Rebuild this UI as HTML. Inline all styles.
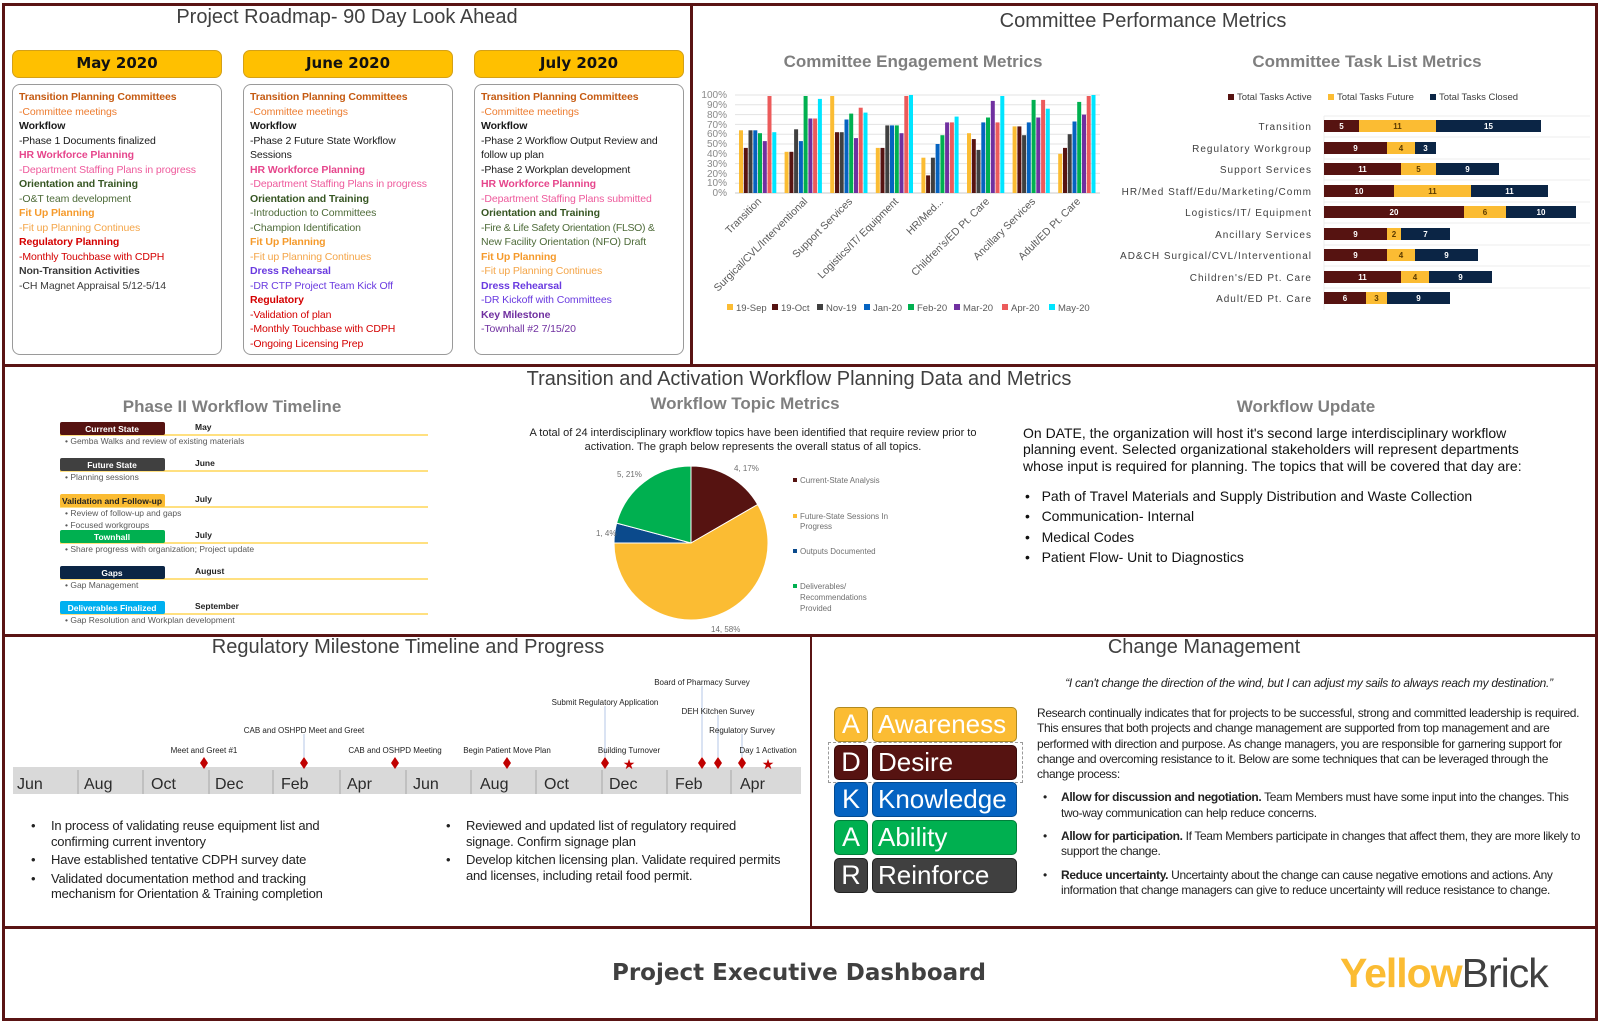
<!DOCTYPE html>
<html><head><meta charset="utf-8">
<style>
*{margin:0;padding:0;box-sizing:border-box}
body{width:1600px;height:1022px;background:#fff;position:relative;overflow:hidden;font-family:"Liberation Sans",sans-serif;color:#222}
.a{position:absolute}
.ln{position:absolute;background:#5a1414}
.title{position:absolute;font-size:20px;color:#404040;white-space:nowrap;transform:translateX(-50%)}
.sub{position:absolute;font-size:17px;font-weight:bold;color:#7f7f7f;white-space:nowrap;transform:translateX(-50%)}
.mh{position:absolute;top:50px;height:28px;background:#ffc000;border:1.5px solid #d4a017;border-radius:7px;font-family:"DejaVu Sans",sans-serif;font-weight:bold;font-size:15px;text-align:center;line-height:25px;color:#111}
.mb{position:absolute;top:84px;height:271px;border:1.5px solid #9a9a9a;border-radius:8px;padding:5px 0 0 6px;font-size:10.5px;line-height:14.5px;white-space:nowrap;letter-spacing:-0.1px}
.b{font-weight:bold}
.o1{color:#c55a11}.o2{color:#ed7d31}.k{color:#1a1a1a}.p1{color:#e6468c}.p2{color:#ee5a9c}.g1{color:#375623}.g2{color:#4e6b39}.f1{color:#f59a2b}.f2{color:#f4a548}.r{color:#d40000}.gr{color:#3a3a3a}.v{color:#6a3be0}.km{color:#7030a0}
.nar{font-family:"Liberation Sans Narrow","Liberation Sans",sans-serif}
</style></head><body>

<div class="ln" style="left:2px;top:3px;width:1596px;height:3px"></div>
<div class="ln" style="left:2px;top:1018px;width:1596px;height:3px"></div>
<div class="ln" style="left:2px;top:3px;width:3px;height:1018px"></div>
<div class="ln" style="left:1595px;top:3px;width:3px;height:1018px"></div>
<div class="ln" style="left:2px;top:364px;width:1596px;height:3px"></div>
<div class="ln" style="left:2px;top:634px;width:1596px;height:3px"></div>
<div class="ln" style="left:2px;top:926px;width:1596px;height:3px"></div>
<div class="ln" style="left:690px;top:3px;width:3px;height:362px"></div>
<div class="ln" style="left:810px;top:634px;width:2px;height:293px"></div>

<div class="title" style="left:347px;top:6px">Project Roadmap- 90 Day Look Ahead</div>
<div class="mh" style="left:12px;width:210px">May 2020</div>
<div class="mh" style="left:243px;width:210px">June 2020</div>
<div class="mh" style="left:474px;width:210px">July 2020</div>
<div class="mb" style="left:12px;width:210px">
<span class="b o1">Transition Planning Committees</span><br><span class="o2">-Committee meetings</span><br><span class="b k">Workflow</span><br><span class="k">-Phase 1 Documents finalized</span><br><span class="b p1">HR Workforce Planning</span><br><span class="p2">-Department Staffing Plans in progress</span><br><span class="b g1">Orientation and Training</span><br><span class="g2">-O&amp;T team development</span><br><span class="b f1">Fit Up Planning</span><br><span class="f2">-Fit up Planning Continues</span><br><span class="b r">Regulatory Planning</span><br><span class="r">-Monthly Touchbase with CDPH</span><br><span class="b gr">Non-Transition Activities</span><br><span class="gr">-CH Magnet Appraisal 5/12-5/14</span>
</div>
<div class="mb" style="left:243px;width:210px">
<span class="b o1">Transition Planning Committees</span><br><span class="o2">-Committee meetings</span><br><span class="b k">Workflow</span><br><span class="k">-Phase 2 Future State Workflow</span><br><span class="k">Sessions</span><br><span class="b p1">HR Workforce Planning</span><br><span class="p2">-Department Staffing Plans in progress</span><br><span class="b g1">Orientation and Training</span><br><span class="g2">-Introduction to Committees</span><br><span class="g2">-Champion Identification</span><br><span class="b f1">Fit Up Planning</span><br><span class="f2">-Fit up Planning Continues</span><br><span class="b v">Dress Rehearsal</span><br><span class="v">-DR CTP Project Team Kick Off</span><br><span class="b r">Regulatory</span><br><span class="r">-Validation of plan</span><br><span class="r">-Monthly Touchbase with CDPH</span><br><span class="r">-Ongoing Licensing Prep</span>
</div>
<div class="mb" style="left:474px;width:210px">
<span class="b o1">Transition Planning Committees</span><br><span class="o2">-Committee meetings</span><br><span class="b k">Workflow</span><br><span class="k">-Phase 2 Workflow Output Review and</span><br><span class="k">follow up plan</span><br><span class="k">-Phase 2 Workplan development</span><br><span class="b p1">HR Workforce Planning</span><br><span class="p2">-Department Staffing Plans submitted</span><br><span class="b g1">Orientation and Training</span><br><span class="g2" style="letter-spacing:-0.3px">-Fire &amp; Life Safety Orientation (FLSO) &amp;</span><br><span class="g2">New Facility Orientation (NFO) Draft</span><br><span class="b f1">Fit Up Planning</span><br><span class="f2">-Fit up Planning Continues</span><br><span class="b v">Dress Rehearsal</span><br><span class="v">-DR Kickoff with Committees</span><br><span class="b km">Key Milestone</span><br><span class="km">-Townhall #2 7/15/20</span>
</div>

<div class="title" style="left:1143px;top:10px">Committee Performance Metrics</div>
<div class="sub" style="left:913px;top:52px">Committee Engagement Metrics</div>
<div class="sub" style="left:1367px;top:52px">Committee Task List Metrics</div>

<svg class="a" style="left:0;top:0" width="1600" height="1022" font-family="Liberation Sans, sans-serif">
<g id="eng" stroke="#e3e3e3" stroke-width="1">
<line x1="735" y1="95" x2="1100" y2="95"/><line x1="735" y1="104.8" x2="1100" y2="104.8"/><line x1="735" y1="114.6" x2="1100" y2="114.6"/><line x1="735" y1="124.4" x2="1100" y2="124.4"/><line x1="735" y1="134.2" x2="1100" y2="134.2"/><line x1="735" y1="144" x2="1100" y2="144"/><line x1="735" y1="153.8" x2="1100" y2="153.8"/><line x1="735" y1="163.6" x2="1100" y2="163.6"/><line x1="735" y1="173.4" x2="1100" y2="173.4"/><line x1="735" y1="183.2" x2="1100" y2="183.2"/><line x1="735" y1="193" x2="1100" y2="193" stroke="#c8c8c8"/>
</g>
<g font-size="10" fill="#8a8a8a" text-anchor="end">
<text x="727" y="98">100%</text><text x="727" y="108">90%</text><text x="727" y="118">80%</text><text x="727" y="128">70%</text><text x="727" y="137">60%</text><text x="727" y="147">50%</text><text x="727" y="157">40%</text><text x="727" y="167">30%</text><text x="727" y="177">20%</text><text x="727" y="186">10%</text><text x="727" y="196">0%</text>
</g>
<g id="bars"></g>
<g font-size="10.5" fill="#595959" text-anchor="end">
<text transform="translate(762,202) rotate(-45)">Transition</text>
<text transform="translate(808,202) rotate(-45)">Surgical/CVL/Interventional</text>
<text transform="translate(853,202) rotate(-45)">Support Services</text>
<text transform="translate(899,202) rotate(-45)">Logistics/IT/ Equipment</text>
<text transform="translate(944,202) rotate(-45)">HR/Med...</text>
<text transform="translate(990,202) rotate(-45)">Children's/ED Pt. Care</text>
<text transform="translate(1036,202) rotate(-45)">Ancillary Services</text>
<text transform="translate(1081,202) rotate(-45)">Adult/ED Pt. Care</text>
</g>
<g font-size="9.5" fill="#595959">
<rect x="727" y="304" width="6" height="6" fill="#fbbc33"/><text x="736" y="311">19-Sep</text>
<rect x="772" y="304" width="6" height="6" fill="#561311"/><text x="781" y="311">19-Oct</text>
<rect x="817" y="304" width="6" height="6" fill="#404040"/><text x="826" y="311">Nov-19</text>
<rect x="864" y="304" width="6" height="6" fill="#0563c1"/><text x="873" y="311">Jan-20</text>
<rect x="908" y="304" width="6" height="6" fill="#00b050"/><text x="917" y="311">Feb-20</text>
<rect x="954" y="304" width="6" height="6" fill="#7030a0"/><text x="963" y="311">Mar-20</text>
<rect x="1002" y="304" width="6" height="6" fill="#ec5b5b"/><text x="1011" y="311">Apr-20</text>
<rect x="1049" y="304" width="6" height="6" fill="#00e5ff"/><text x="1058" y="311">May-20</text>
</g>

<g font-size="9.5" fill="#404040">
<rect x="1228" y="94" width="6" height="6" fill="#561311"/><text x="1237" y="100">Total Tasks Active</text>
<rect x="1328" y="94" width="6" height="6" fill="#fbbc33"/><text x="1337" y="100">Total Tasks Future</text>
<rect x="1430" y="94" width="6" height="6" fill="#0b2545"/><text x="1439" y="100">Total Tasks Closed</text>
</g>
<g stroke="#ececec"><line x1="1324" y1="116" x2="1590" y2="116"/><line x1="1324" y1="137" x2="1590" y2="137"/><line x1="1324" y1="159" x2="1590" y2="159"/><line x1="1324" y1="180" x2="1590" y2="180"/><line x1="1324" y1="202" x2="1590" y2="202"/><line x1="1324" y1="223" x2="1590" y2="223"/><line x1="1324" y1="245" x2="1590" y2="245"/><line x1="1324" y1="266" x2="1590" y2="266"/><line x1="1324" y1="288" x2="1590" y2="288"/><line x1="1324" y1="116" x2="1324" y2="310"/></g>
<g font-size="10" fill="#404040" text-anchor="end" letter-spacing="1">
<text x="1312" y="130">Transition</text><text x="1312" y="152">Regulatory Workgroup</text><text x="1312" y="173">Support Services</text><text x="1312" y="195">HR/Med Staff/Edu/Marketing/Comm</text><text x="1312" y="216">Logistics/IT/ Equipment</text><text x="1312" y="238">Ancillary Services</text><text x="1312" y="259">AD&amp;CH Surgical/CVL/Interventional</text><text x="1312" y="281">Children's/ED Pt. Care</text><text x="1312" y="302">Adult/ED Pt. Care</text>
</g>
<g>
<rect x="1324" y="120" width="35" height="12" fill="#561311"/><rect x="1359" y="120" width="77" height="12" fill="#fbbc33"/><rect x="1436" y="120" width="105" height="12" fill="#0b2545"/>
<rect x="1324" y="142" width="63" height="12" fill="#561311"/><rect x="1387" y="142" width="28" height="12" fill="#fbbc33"/><rect x="1415" y="142" width="21" height="12" fill="#0b2545"/>
<rect x="1324" y="163" width="77" height="12" fill="#561311"/><rect x="1401" y="163" width="35" height="12" fill="#fbbc33"/><rect x="1436" y="163" width="63" height="12" fill="#0b2545"/>
<rect x="1324" y="185" width="70" height="12" fill="#561311"/><rect x="1394" y="185" width="77" height="12" fill="#fbbc33"/><rect x="1471" y="185" width="77" height="12" fill="#0b2545"/>
<rect x="1324" y="206" width="140" height="12" fill="#561311"/><rect x="1464" y="206" width="42" height="12" fill="#fbbc33"/><rect x="1506" y="206" width="70" height="12" fill="#0b2545"/>
<rect x="1324" y="228" width="63" height="12" fill="#561311"/><rect x="1387" y="228" width="14" height="12" fill="#fbbc33"/><rect x="1401" y="228" width="49" height="12" fill="#0b2545"/>
<rect x="1324" y="249" width="63" height="12" fill="#561311"/><rect x="1387" y="249" width="28" height="12" fill="#fbbc33"/><rect x="1415" y="249" width="63" height="12" fill="#0b2545"/>
<rect x="1324" y="271" width="77" height="12" fill="#561311"/><rect x="1401" y="271" width="28" height="12" fill="#fbbc33"/><rect x="1429" y="271" width="63" height="12" fill="#0b2545"/>
<rect x="1324" y="292" width="42" height="12" fill="#561311"/><rect x="1366" y="292" width="21" height="12" fill="#fbbc33"/><rect x="1387" y="292" width="63" height="12" fill="#0b2545"/>
</g>
<g font-size="8" font-weight="bold" text-anchor="middle" fill="#fff">
<text x="1341.5" y="129">5</text><text x="1397.5" y="129" fill="#5a3a00">11</text><text x="1488.5" y="129">15</text>
<text x="1355.5" y="151">9</text><text x="1401" y="151" fill="#5a3a00">4</text><text x="1425.5" y="151">3</text>
<text x="1362.5" y="172">11</text><text x="1418.5" y="172" fill="#5a3a00">5</text><text x="1467.5" y="172">9</text>
<text x="1359" y="194">10</text><text x="1432.5" y="194" fill="#5a3a00">11</text><text x="1509.5" y="194">11</text>
<text x="1394" y="215">20</text><text x="1485" y="215" fill="#5a3a00">6</text><text x="1541" y="215">10</text>
<text x="1355.5" y="237">9</text><text x="1394" y="237" fill="#5a3a00">2</text><text x="1425.5" y="237">7</text>
<text x="1355.5" y="258">9</text><text x="1401" y="258" fill="#5a3a00">4</text><text x="1446.5" y="258">9</text>
<text x="1362.5" y="280">11</text><text x="1415" y="280" fill="#5a3a00">4</text><text x="1460.5" y="280">9</text>
<text x="1345" y="301">6</text><text x="1376.5" y="301" fill="#5a3a00">3</text><text x="1418.5" y="301">9</text>
</g>

<g font-size="8.5">
<g stroke="#ffc000" stroke-width="1"><line x1="60" y1="435" x2="428" y2="435"/><line x1="60" y1="471" x2="428" y2="471"/><line x1="60" y1="507" x2="428" y2="507"/><line x1="60" y1="543" x2="428" y2="543"/><line x1="60" y1="579" x2="428" y2="579"/><line x1="60" y1="614" x2="428" y2="614"/></g>
<rect x="60" y="422" width="105" height="13" rx="2" fill="#561311"/><text x="112" y="432" fill="#fff" font-weight="bold" text-anchor="middle">Current State</text>
<rect x="60" y="458" width="105" height="13" rx="2" fill="#404040"/><text x="112" y="468" fill="#fff" font-weight="bold" text-anchor="middle">Future State</text>
<rect x="60" y="494" width="105" height="13" rx="2" fill="#fbbc33"/><text x="112" y="504" fill="#222" font-weight="bold" text-anchor="middle">Validation and Follow-up</text>
<rect x="60" y="530" width="105" height="13" rx="2" fill="#00b050"/><text x="112" y="540" fill="#fff" font-weight="bold" text-anchor="middle">Townhall</text>
<rect x="60" y="566" width="105" height="13" rx="2" fill="#0b2545"/><text x="112" y="576" fill="#fff" font-weight="bold" text-anchor="middle">Gaps</text>
<rect x="60" y="601" width="105" height="13" rx="2" fill="#00b0f0"/><text x="112" y="611" fill="#fff" font-weight="bold" text-anchor="middle">Deliverables Finalized</text>
<g font-weight="bold" fill="#222"><text x="195" y="430">May</text><text x="195" y="466">June</text><text x="195" y="502">July</text><text x="195" y="538">July</text><text x="195" y="574">August</text><text x="195" y="609">September</text></g>
<g fill="#595959"><text x="65" y="444">•  Gemba Walks and review of existing materials</text><text x="65" y="480">•  Planning sessions</text><text x="65" y="516">•  Review of follow-up and gaps</text><text x="65" y="528">•  Focused workgroups</text><text x="65" y="552">•  Share progress with organization; Project update</text><text x="65" y="588">•  Gap Management</text><text x="65" y="623">•  Gap Resolution and Workplan development</text></g>
</g>

<g stroke="#fff" stroke-width="1">
<path d="M691 543 L691 466 A77 77 0 0 1 757.7 504.5 Z" fill="#561311"/>
<path d="M691 543 L757.7 504.5 A77 77 0 1 1 614 543 Z" fill="#fbbc33"/>
<path d="M691 543 L614 543 A77 77 0 0 1 616.6 523.1 Z" fill="#0b4a8c"/>
<path d="M691 543 L616.6 523.1 A77 77 0 0 1 691 466 Z" fill="#00b050"/>
</g>
<g font-size="8" fill="#707070">
<text x="734" y="471">4, 17%</text><text x="617" y="477">5, 21%</text><text x="596" y="536">1, 4%</text><text x="711" y="632">14, 58%</text>
<rect x="793" y="478" width="4" height="4" fill="#561311"/><text x="800" y="483">Current-State Analysis</text>
<rect x="793" y="514" width="4" height="4" fill="#fbbc33"/><text x="800" y="519">Future-State Sessions In</text><text x="800" y="529">Progress</text>
<rect x="793" y="549" width="4" height="4" fill="#0b4a8c"/><text x="800" y="554">Outputs Documented</text>
<rect x="793" y="584" width="4" height="4" fill="#00b050"/><text x="800" y="589">Deliverables/</text><text x="800" y="600">Recommendations</text><text x="800" y="611">Provided</text>
</g>

<rect x="13" y="767" width="788" height="27" fill="#d9d9d9"/>
<g stroke="#a6a6a6"><line x1="78" y1="770" x2="78" y2="794"/><line x1="143" y1="770" x2="143" y2="794"/><line x1="209" y1="770" x2="209" y2="794"/><line x1="273" y1="770" x2="273" y2="794"/><line x1="340" y1="770" x2="340" y2="794"/><line x1="406" y1="770" x2="406" y2="794"/><line x1="471" y1="770" x2="471" y2="794"/><line x1="536" y1="770" x2="536" y2="794"/><line x1="602" y1="770" x2="602" y2="794"/><line x1="667" y1="770" x2="667" y2="794"/><line x1="731" y1="770" x2="731" y2="794"/></g>
<g font-size="16" fill="#2b2b2b" font-family="Liberation Sans Narrow, Liberation Sans, sans-serif">
<text x="17" y="789">Jun</text><text x="84" y="789">Aug</text><text x="151" y="789">Oct</text><text x="215" y="789">Dec</text><text x="281" y="789">Feb</text><text x="347" y="789">Apr</text><text x="413" y="789">Jun</text><text x="480" y="789">Aug</text><text x="544" y="789">Oct</text><text x="609" y="789">Dec</text><text x="675" y="789">Feb</text><text x="740" y="789">Apr</text>
</g>
<g stroke="#b4c7e7" stroke-width="1"><line x1="304" y1="734" x2="304" y2="757"/><line x1="605" y1="706" x2="605" y2="757"/><line x1="702" y1="686" x2="702" y2="757"/><line x1="718" y1="715" x2="718" y2="757"/><line x1="742" y1="734" x2="742" y2="757"/></g>
<g fill="#c00000">
<path d="M204 757 L208 763 L204 769 L200 763Z"/><path d="M304 757 L308 763 L304 769 L300 763Z"/><path d="M395 757 L399 763 L395 769 L391 763Z"/><path d="M507 757 L511 763 L507 769 L503 763Z"/><path d="M605 757 L609 763 L605 769 L601 763Z"/><path d="M702 757 L706 763 L702 769 L698 763Z"/><path d="M718 757 L722 763 L718 769 L714 763Z"/><path d="M742 757 L746 763 L742 769 L738 763Z"/>
<text x="629" y="769" font-size="14" text-anchor="middle">★</text><text x="768" y="769" font-size="14" text-anchor="middle">★</text>
</g>
<g font-size="8" fill="#222" text-anchor="middle" font-family="Liberation Sans Narrow, Liberation Sans, sans-serif">
<text x="204" y="753">Meet and Greet #1</text><text x="304" y="733">CAB and OSHPD Meet and Greet</text><text x="395" y="753">CAB and OSHPD Meeting</text><text x="507" y="753">Begin Patient Move Plan</text><text x="605" y="705">Submit Regulatory Application</text><text x="629" y="753">Building Turnover</text><text x="702" y="685">Board of Pharmacy Survey</text><text x="718" y="714">DEH Kitchen Survey</text><text x="742" y="733">Regulatory Survey</text><text x="768" y="753">Day 1 Activation</text>
</g>
</svg>

<div class="sub" style="left:232px;top:397px">Phase II Workflow Timeline</div>
<div class="title" style="left:799px;top:368px">Transition and Activation Workflow Planning Data and Metrics</div>
<div class="sub" style="left:745px;top:394px">Workflow Topic Metrics</div>
<div class="a" style="left:513px;top:426px;width:480px;text-align:center;font-size:11px;line-height:14px;color:#222">A total of 24 interdisciplinary workflow topics have been identified that require review prior to activation. The graph below represents the overall status of all topics.</div>

<div class="sub" style="left:1306px;top:397px">Workflow Update</div>
<div class="a" style="left:1023px;top:425px;width:540px;font-size:14px;line-height:16.3px;color:#111">On DATE, the organization will host it's second large interdisciplinary workflow planning event. Selected organizational stakeholders will represent departments whose input is required for planning. The topics that will be covered that day are:</div>
<div class="a" style="left:1025px;top:486px;font-size:14px;line-height:20.3px;color:#111;white-space:nowrap">•&nbsp;&nbsp;&nbsp;Path of Travel Materials and Supply Distribution and Waste Collection<br>•&nbsp;&nbsp;&nbsp;Communication- Internal<br>•&nbsp;&nbsp;&nbsp;Medical Codes<br>•&nbsp;&nbsp;&nbsp;Patient Flow- Unit to Diagnostics</div>

<div class="title" style="left:408px;top:636px">Regulatory Milestone Timeline and Progress</div>
<div class="a nar" style="left:31px;top:818px;font-size:13px;line-height:15.5px;color:#222;white-space:nowrap;letter-spacing:-0.2px">
<div style="position:relative;padding-left:20px"><span style="position:absolute;left:0">•</span>In process of validating reuse equipment list and<br>confirming current inventory</div>
<div style="position:relative;padding-left:20px;margin-top:3px"><span style="position:absolute;left:0">•</span>Have established tentative CDPH survey date</div>
<div style="position:relative;padding-left:20px;margin-top:3px"><span style="position:absolute;left:0">•</span>Validated documentation method and tracking<br>mechanism for Orientation &amp; Training completion</div>
</div>
<div class="a nar" style="left:446px;top:818px;font-size:13px;line-height:15.5px;color:#222;white-space:nowrap;letter-spacing:-0.2px">
<div style="position:relative;padding-left:20px"><span style="position:absolute;left:0">•</span>Reviewed and updated list of regulatory required<br>signage. Confirm signage plan</div>
<div style="position:relative;padding-left:20px;margin-top:3px"><span style="position:absolute;left:0">•</span>Develop kitchen licensing plan. Validate required permits<br>and licenses, including retail food permit.</div>
</div>

<div class="title" style="left:1204px;top:636px">Change Management</div>
<div class="a nar" style="left:1309px;top:676px;transform:translateX(-50%);font-size:12px;letter-spacing:-0.3px;font-style:italic;color:#222;white-space:nowrap">“I can't change the direction of the wind, but I can adjust my sails to always reach my destination.”</div>
<div class="a" style="left:828px;top:742px;width:195px;height:41px;border:1.5px dashed #9a9a9a"></div>
<div class="a nar" style="left:1037px;top:706px;width:550px;font-size:12px;letter-spacing:-0.35px;line-height:15.3px;color:#222">Research continually indicates that for projects to be successful, strong and committed leadership is required. This ensures that both projects and change management are supported from top management and are performed with direction and purpose. As change managers, you are responsible for garnering support for change and overcoming resistance to it. Below are some techniques that can be leveraged through the change process:
<div style="position:relative;padding-left:24px;margin-top:8px"><span style="position:absolute;left:6px">•</span><b>Allow for discussion and negotiation.</b> Team Members must have some input into the changes. This two-way communication can help reduce concerns.</div>
<div style="position:relative;padding-left:24px;margin-top:8px"><span style="position:absolute;left:6px">•</span><b>Allow for participation.</b> If Team Members participate in changes that affect them, they are more likely to support the change.</div>
<div style="position:relative;padding-left:24px;margin-top:8px"><span style="position:absolute;left:6px">•</span><b>Reduce uncertainty.</b> Uncertainty about the change can cause negative emotions and actions. Any information that change managers can give to reduce uncertainty will reduce resistance to change.</div>
</div>
<div class="a" style="left:834px;top:707px;width:34px;height:35px;background:#fbbc33;border:1.5px solid #b08a20;border-radius:5px;color:#fff;font-size:27px;line-height:33px;text-align:center">A</div>
<div class="a nar" style="left:872px;top:707px;width:145px;height:35px;background:#fbbc33;border:1.5px solid #b08a20;border-radius:5px;color:#fff;font-size:26px;line-height:33px;padding-left:5px">Awareness</div>
<div class="a" style="left:834px;top:745px;width:34px;height:35px;background:#561311;border:1.5px solid #3a0a0a;border-radius:5px;color:#fff;font-size:27px;line-height:33px;text-align:center">D</div>
<div class="a nar" style="left:872px;top:745px;width:145px;height:35px;background:#561311;border:1.5px solid #3a0a0a;border-radius:5px;color:#fff;font-size:26px;line-height:33px;padding-left:5px">Desire</div>
<div class="a" style="left:834px;top:782px;width:34px;height:35px;background:#0563c1;border:1.5px solid #034a90;border-radius:5px;color:#fff;font-size:27px;line-height:33px;text-align:center">K</div>
<div class="a nar" style="left:872px;top:782px;width:145px;height:35px;background:#0563c1;border:1.5px solid #034a90;border-radius:5px;color:#fff;font-size:26px;line-height:33px;padding-left:5px">Knowledge</div>
<div class="a" style="left:834px;top:820px;width:34px;height:35px;background:#00b050;border:1.5px solid #00803a;border-radius:5px;color:#fff;font-size:27px;line-height:33px;text-align:center">A</div>
<div class="a nar" style="left:872px;top:820px;width:145px;height:35px;background:#00b050;border:1.5px solid #00803a;border-radius:5px;color:#fff;font-size:26px;line-height:33px;padding-left:5px">Ability</div>
<div class="a" style="left:834px;top:858px;width:34px;height:35px;background:#404040;border:1.5px solid #222;border-radius:5px;color:#fff;font-size:27px;line-height:33px;text-align:center">R</div>
<div class="a nar" style="left:872px;top:858px;width:145px;height:35px;background:#404040;border:1.5px solid #222;border-radius:5px;color:#fff;font-size:26px;line-height:33px;padding-left:5px">Reinforce</div>

<div class="a" style="left:799px;top:960px;transform:translateX(-50%);font-family:'DejaVu Sans',sans-serif;font-weight:bold;font-size:23px;color:#404040;white-space:nowrap">Project Executive Dashboard</div>
<div class="a nar" style="left:1340px;top:950px;font-size:41px;white-space:nowrap;letter-spacing:-1px"><span style="color:#fbbc33;font-weight:bold">Yellow</span><span style="color:#404040">Brick</span></div>

<script>
var d=[[64,46,64,64,61,53,99,62],[42,42,65,53,99,76,76,96],[99,62,62,75,81,56,87,82],[46,46,69,69,69,61,99,100],[36,18,36,50,59,72,72,78],[61,55,44,72,77,94,72,99],[68,68,59,72,95,77,95,86],[40,46,60,73,93,80,99,100]];
var c=["#fbbc33","#561311","#404040","#0563c1","#00b050","#7030a0","#ec5b5b","#00e5ff"];
var s="";
for(var i=0;i<8;i++)for(var j=0;j<8;j++){var h=d[i][j]*0.98;s+='<rect x="'+(739+i*45.6+j*4.75).toFixed(1)+'" y="'+(193-h).toFixed(1)+'" width="4" height="'+h.toFixed(1)+'" fill="'+c[j]+'"/>';}
document.getElementById("bars").innerHTML=s;
</script>
</body></html>
